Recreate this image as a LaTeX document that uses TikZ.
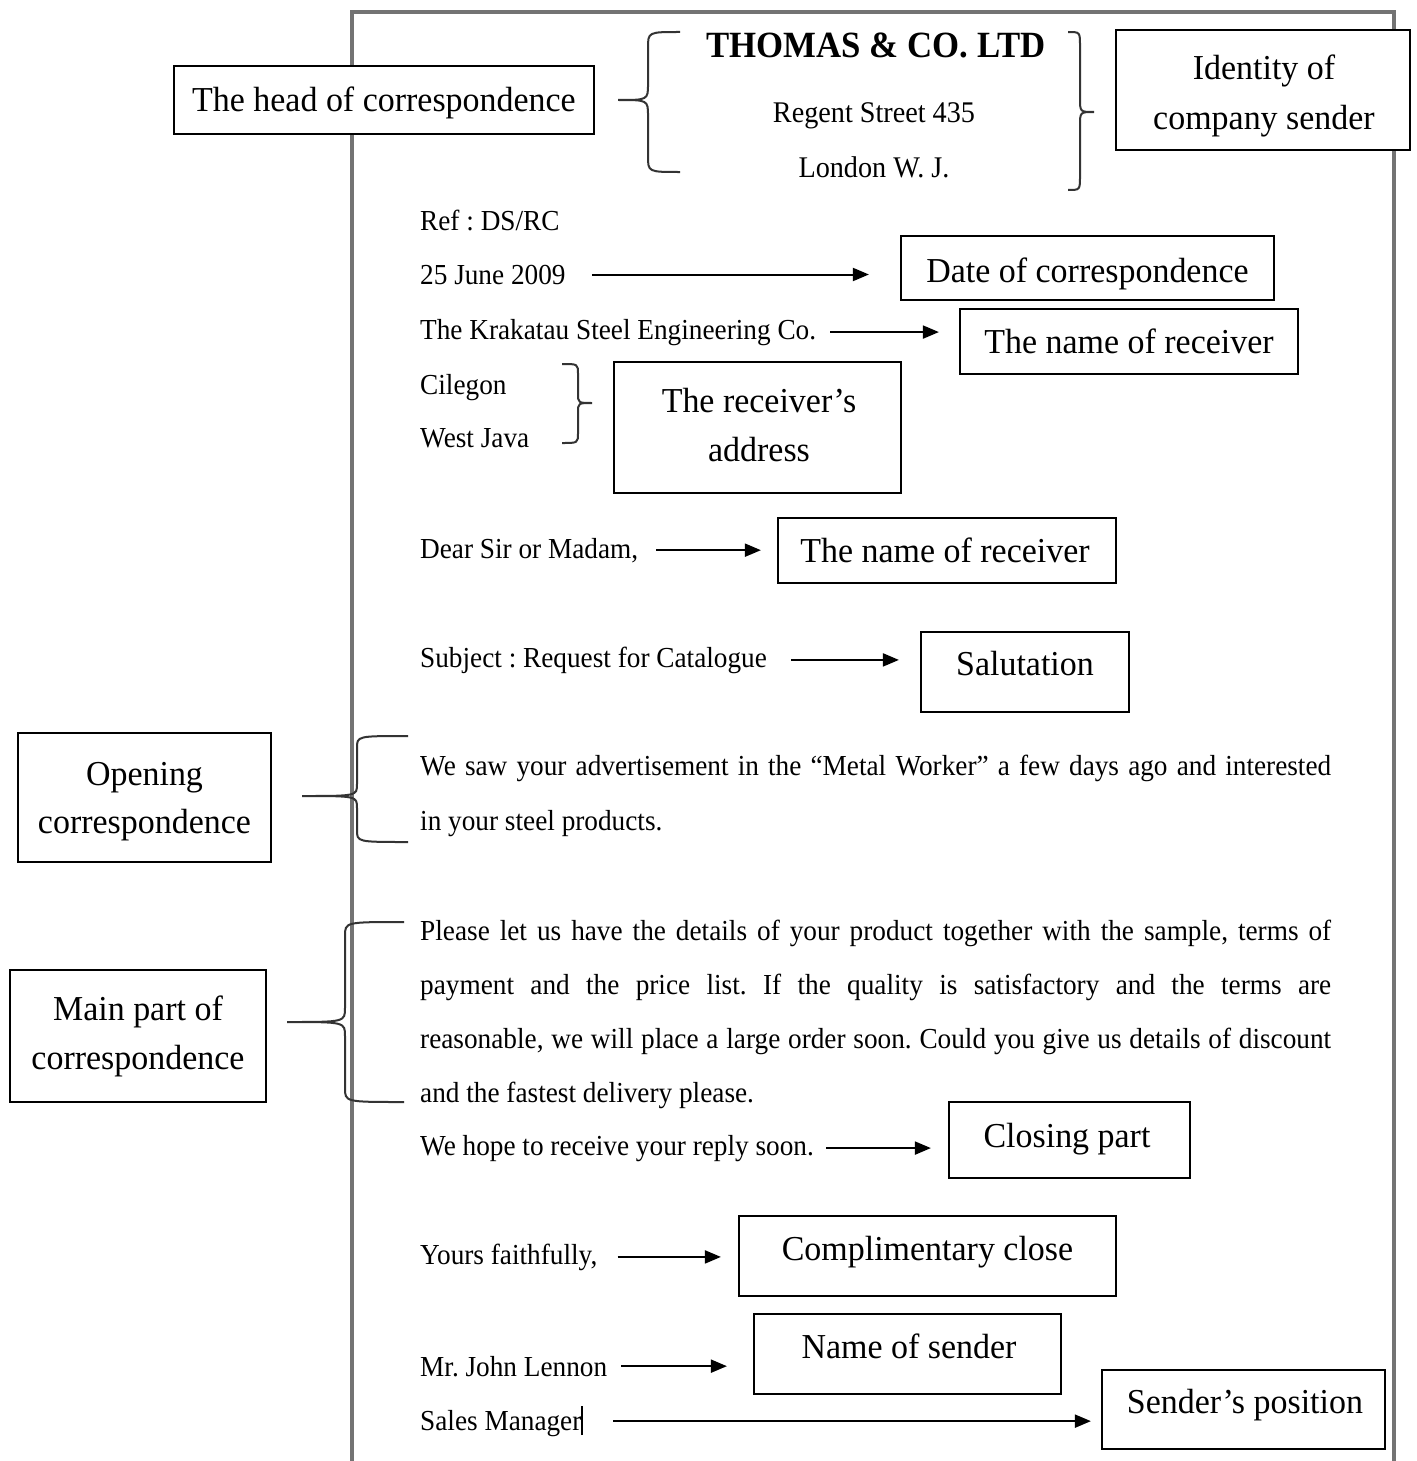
\documentclass[tikz,border=0pt]{standalone}
\usepackage{fontspec}
\setmainfont{Liberation Serif}
\newfontfamily\letterfam[FakeStretch=0.94]{Liberation Serif}
\newfontfamily\labelfam[FakeStretch=0.97]{Liberation Serif}
\usetikzlibrary{arrows.meta}
\newsavebox\jbox
\newcommand\jline[1]{\sbox\jbox{#1}\ifdim\wd\jbox>911pt \resizebox{911pt}{\ht\jbox}{#1}\else\makebox[911pt][s]{#1}\fi}
\newcommand\mybraceL[7]{% xr y1 y2 xs xt ym r
  \draw[br] (#1,#2) .. controls (#4,#2) .. (#4,#2+#7) -- (#4,#6-#7) .. controls (#4,#6) .. (#5,#6)
    .. controls (#4,#6) .. (#4,#6+#7) -- (#4,#3-#7) .. controls (#4,#3) .. (#1,#3);}
\frenchspacing
\begin{document}
\frenchspacing
\begin{tikzpicture}[x=1pt,y=-1pt,
  lt/.style={anchor=base west, inner sep=0pt, font=\letterfam\fontsize{29}{35}\selectfont, text=black},
  hd/.style={anchor=base, inner sep=0pt, font=\letterfam\fontsize{30}{35}\selectfont, text=black},
  lbl/.style={anchor=base, inner sep=0pt, font=\labelfam\fontsize{35}{49}\selectfont},
  bx/.style={draw, fill=white, line width=2.2pt, inner sep=0pt},
  arr/.style={line width=2pt, -{Triangle[length=16pt,width=13pt]}},
  br/.style={line width=2pt, black!80},
  frm/.style={line width=3.5pt, black!55}]

\useasboundingbox (0,0) rectangle (1416,1461);
\fill[white] (0,0) rectangle (1416,1461);

% page frame
\draw[frm] (352,1461) -- (352,12) -- (1394,12) -- (1394,1461);

% ---------- letter text ----------
\node[hd, font=\letterfam\fontsize{37}{40}\selectfont\bfseries] (comp) at (876,58) {THOMAS \& CO. LTD};
\node[hd] (street) at (874,123) {Regent Street 435};
\node[hd] (city) at (874,177) {London W. J.};

\node[lt] (ref) at (420,230) {Ref : DS/RC};
\node[lt] (date) at (420,284) {25 June 2009};
\node[lt] (rname) at (420,339) {The Krakatau Steel Engineering Co.};
\node[lt] (rcity) at (420,394) {Cilegon};
\node[lt] (rprov) at (420,447) {West Java};
\node[lt] (dear) at (420,558) {Dear Sir or Madam,};
\node[lt] (subj) at (420,667) {Subject : Request for Catalogue};
\node[lt] (op1) at (420,775) {\jline{We saw your advertisement in the “Metal Worker” a few days ago and interested}};
\node[lt] (op2) at (420,830) {in your steel products.};
\node[lt] (mp1) at (420,940) {\jline{Please let us have the details of your product together with the sample, terms of}};
\node[lt] (mp2) at (420,994) {\jline{payment and the price list. If the quality is satisfactory and the terms are}};
\node[lt] (mp3) at (420,1048) {\jline{reasonable, we will place a large order soon. Could you give us details of discount}};
\node[lt] (mp4) at (420,1102) {and the fastest delivery please.};
\node[lt] (hope) at (420,1155) {We hope to receive your reply soon.};
\node[lt] (yours) at (420,1264) {Yours faithfully,};
\node[lt] (sname) at (420,1376) {Mr. John Lennon};
\node[lt] (spos) at (420,1430) {Sales Manager\rule[-5pt]{1.6pt}{29pt}};

% ---------- label boxes ----------
\node[bx, minimum width=420pt, minimum height=68pt] (headbox) at (384,100) {};
\node[lbl] (headt) at (384,112) {The head of correspondence};

\node[bx, minimum width=294pt, minimum height=120pt] (idbox) at (1263,90) {};
\node[lbl] (idt1) at (1264,80) {Identity of};
\node[lbl] (idt2) at (1264,129) {company sender};

\node[bx, minimum width=373pt, minimum height=64pt] (datebox) at (1087.5,268) {};
\node[lbl] (datet) at (1087.5,282) {Date of correspondence};

\node[bx, minimum width=338pt, minimum height=65pt] (recvbox) at (1129,341.5) {};
\node[lbl] (recvt) at (1129,353) {The name of receiver};

\node[bx, minimum width=287pt, minimum height=131pt] (addrbox) at (757.5,427.5) {};
\node[lbl] (addrt1) at (759,412) {The receiver’s};
\node[lbl] (addrt2) at (759,461) {address};

\node[bx, minimum width=338pt, minimum height=65pt] (recv2box) at (947,550.5) {};
\node[lbl] (recv2t) at (945,562) {The name of receiver};

\node[bx, minimum width=208pt, minimum height=80pt] (salbox) at (1025,672) {};
\node[lbl] (salt) at (1025,675) {Salutation};

\node[bx, minimum width=253pt, minimum height=129pt] (openbox) at (144.5,797.5) {};
\node[lbl] (opent1) at (144.5,785) {Opening};
\node[lbl] (opent2) at (144.5,833) {correspondence};

\node[bx, minimum width=256pt, minimum height=132pt] (mainbox) at (138,1036) {};
\node[lbl] (maint1) at (138,1020) {Main part of};
\node[lbl] (maint2) at (138,1069) {correspondence};

\node[bx, minimum width=241pt, minimum height=76pt] (closebox) at (1069.5,1140) {};
\node[lbl] (closet) at (1067,1147) {Closing part};

\node[bx, minimum width=377pt, minimum height=80pt] (complbox) at (927.5,1256) {};
\node[lbl] (complt) at (927.5,1260) {Complimentary close};

\node[bx, minimum width=307pt, minimum height=80pt] (nsbox) at (907.5,1354) {};
\node[lbl] (nst) at (909,1358) {Name of sender};

\node[bx, minimum width=283pt, minimum height=79pt] (posbox) at (1243.5,1409.5) {};
\node[lbl] (post) at (1245,1413) {Sender’s position};

% ---------- braces ----------
\mybraceL{680}{32}{172}{648}{618}{100}{16}
\mybraceL{1068}{32}{190}{1080}{1094}{112}{14}
\mybraceL{562}{364}{443}{578}{592}{403}{10}
\mybraceL{408}{736}{842}{357}{302}{796}{12}
\mybraceL{404}{922}{1102}{345}{287}{1022}{14}

% ---------- arrows ----------
\draw[arr, shorten <=26pt, shorten >=31pt] (date.east) -- (date.east -| datebox.west);
\draw[arr, shorten <=14pt, shorten >=20pt] (rname.east) -- (rname.east -| recvbox.west);
\draw[arr, shorten <=18pt, shorten >=16pt] (dear.east) -- (dear.east -| recv2box.west);
\draw[arr, shorten <=24pt, shorten >=21pt] (subj.east) -- (subj.east -| salbox.west);
\draw[arr, shorten <=12pt, shorten >=17pt] (hope.east) -- (hope.east -| closebox.west);
\draw[arr, shorten <=20pt, shorten >=17pt] (yours.east) -- (yours.east -| complbox.west);
\draw[arr, shorten <=14pt, shorten >=26pt] (sname.east) -- (sname.east -| nsbox.west);
\draw[arr, shorten <=30pt, shorten >=10pt] (spos.east) -- (spos.east -| posbox.west);
\end{tikzpicture}
\end{document}
